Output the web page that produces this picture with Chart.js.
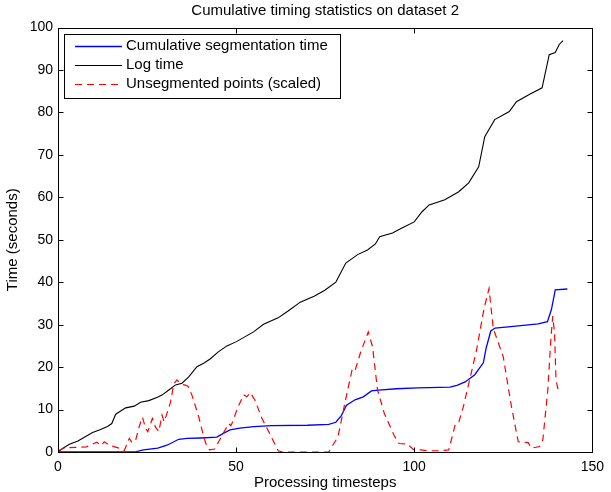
<!DOCTYPE html>
<html>
<head>
<meta charset="utf-8">
<script src="https://cdn.jsdelivr.net/npm/chart.js@4.4.0/dist/chart.umd.min.js"></script>
<style>
  html, body { margin: 0; padding: 0; background: #fff; }
</style>
</head>
<body>
<canvas id="myChart" width="611" height="492"></canvas>
<script>
// values
const xTicks = [0, 50, 100, 150];
const yTicks = [0, 10, 20, 30, 40, 50, 60, 70, 80, 90, 100];

const segSteps = [0, 20, 22, 24, 28, 30.6, 33.9, 36.2, 40, 44.6, 46.4, 48.3, 51, 55, 60, 70, 76, 78, 79.5, 81, 83.4, 85.7, 88, 90, 95, 101, 110, 112, 114.3, 117, 119.4, 120.2, 121.5, 122.7, 126.4, 134.8, 137.4, 138.5, 139.6, 143];
const segValues = [0, 0, 0.1, 0.5, 0.9, 1.6, 3, 3.2, 3.3, 3.5, 4.4, 5.2, 5.6, 6, 6.2, 6.3, 6.5, 7, 8.5, 11, 12.3, 13, 14.4, 14.6, 14.9, 15.1, 15.3, 15.7, 16.5, 18.2, 21, 24.5, 28.5, 29.2, 29.5, 30.2, 30.7, 33.5, 38.2, 38.4];

const logSteps = [0, 1.4, 3.2, 5.6, 9.7, 11.6, 13.9, 15.1, 16.2, 19, 21.4, 23.2, 25.5, 27.9, 29.2, 31.1, 33, 34.8, 36.7, 39, 40.9, 42.7, 45, 47.4, 50.1, 54.9, 57.7, 61.8, 64.6, 68, 71.9, 74.9, 78, 78.6, 80.8, 84.1, 86.9, 89.1, 90.3, 93.9, 96.7, 100, 102.2, 104.2, 108.6, 112.5, 115.3, 118.1, 119.8, 122.6, 126.7, 128.7, 132.3, 135.9, 137.9, 139.6, 140.7, 141.8];
const logValues = [0, 0.9, 1.8, 2.6, 4.6, 5.2, 6, 6.7, 8.9, 10.4, 10.8, 11.7, 12.1, 12.9, 13.4, 14.6, 15.8, 16.2, 17.7, 20.1, 20.9, 21.9, 23.6, 25, 26, 28.3, 30.1, 31.6, 33.2, 35.3, 36.7, 38.1, 40, 41, 44.5, 46.5, 47.6, 49, 50.7, 51.6, 52.8, 54.2, 56.6, 58.2, 59.4, 61.3, 63.4, 67.2, 74.3, 78.3, 80.2, 82.5, 84.2, 85.8, 93.6, 94.1, 96, 96.9];

const unsegSteps = [0, 2, 5, 8, 10.9, 12, 13, 14.4, 17.2, 18.6, 20, 20.8, 21.8, 22.8, 23.7, 24.6, 25.2, 26.5, 27.4, 28.3, 29.2, 29.8, 30.6, 31.6, 32.5, 33.4, 34.5, 35.5, 36.5, 37.6, 39.5, 40.9, 41.8, 42.5, 44, 45.6, 47.9, 48.5, 49, 50.2, 52.1, 53, 54, 55.3, 57.2, 59.5, 61.8, 63, 76, 78.6, 80.9, 82.7, 83.5, 85, 87.1, 88.3, 89.7, 91.6, 94.3, 95.7, 98, 99.9, 101.8, 104, 107.3, 109.7, 111.5, 112.4, 113.8, 116.2, 117.5, 119.6, 121, 122.2, 125, 127.3, 129.2, 132, 132.9, 135.2, 136.1, 137.5, 138.4, 138.9, 139.4, 139.8, 140.3, 141.5];
const unsegValues = [0.3, 1, 1.1, 1.2, 2.3, 1.5, 2.4, 1.6, 0.9, 0.3, 3.2, 2.2, 2.8, 6, 8.2, 5.6, 4.8, 7.9, 5.8, 4.8, 8.7, 7.1, 9.1, 11.8, 16, 17, 16, 15.8, 15.5, 13.4, 8.3, 3.6, 1.3, 0.5, 0.7, 3.2, 6.7, 6.2, 7, 9.9, 13.5, 13, 14, 12.2, 8, 4.2, 0.3, 0, 0, 3.6, 13, 19.9, 19.5, 23.6, 28.3, 24.8, 14.6, 9.1, 4, 2, 1.9, 0.5, 0.5, 0.3, 0.3, 0.5, 6.4, 6.7, 10.7, 19.3, 24, 33.8, 38.5, 29.1, 22.4, 10.7, 2.4, 2.2, 0.9, 1.3, 2.8, 14.6, 27.1, 32, 28, 17, 15, 15.4];

const chartTitle = "Cumulative timing statistics on dataset 2";

const toPoints = (xs, ys) => xs.map((x, i) => ({ x: x, y: ys[i] }));

const family = "'Liberation Sans', Arial, sans-serif";
const font = { family: family, size: 15 };
const tickFont = { family: family, size: 14 };

// title over the plot, box, inward ticks on all four sides, legend top left
const framePlugin = {
  id: "frame",
  afterDraw(chart) {
    const { ctx, chartArea: a, scales } = chart;
    const left = Math.round(a.left) + 0.5;
    const right = Math.round(a.right) + 0.5;
    const top = Math.round(a.top) + 0.5;
    const bottom = Math.round(a.bottom) + 0.5;
    ctx.save();

    ctx.fillStyle = "#000";
    ctx.font = font.size + "px " + family;
    ctx.textAlign = "center";
    ctx.textBaseline = "middle";
    ctx.fillText(chartTitle, (a.left + a.right) / 2, 11);

    ctx.strokeStyle = "#000";
    ctx.lineWidth = 1;
    ctx.strokeRect(left, top, right - left, bottom - top);
    ctx.beginPath();
    yTicks.forEach((v) => {
      const py = Math.round(scales.y.getPixelForValue(v)) + 0.5;
      ctx.moveTo(left, py); ctx.lineTo(left + 5, py);
      ctx.moveTo(right, py); ctx.lineTo(right - 5, py);
    });
    xTicks.forEach((v) => {
      const px = Math.round(scales.x.getPixelForValue(v)) + 0.5;
      ctx.moveTo(px, bottom); ctx.lineTo(px, bottom - 5);
      ctx.moveTo(px, top); ctx.lineTo(px, top + 5);
    });
    ctx.stroke();

    // legend
    ctx.fillStyle = "#fff";
    ctx.fillRect(64.5, 34.5, 276, 64);
    ctx.strokeRect(64.5, 34.5, 276, 64);
    ctx.textAlign = "left";
    const rows = [46, 65, 84];
    chart.data.datasets.forEach((ds, i) => {
      ctx.strokeStyle = ds.borderColor;
      ctx.lineWidth = ds.borderWidth;
      ctx.setLineDash(ds.borderDash || []);
      ctx.beginPath();
      ctx.moveTo(75, rows[i] + 0.5);
      ctx.lineTo(122, rows[i] + 0.5);
      ctx.stroke();
      ctx.setLineDash([]);
      ctx.fillStyle = "#000";
      ctx.fillText(ds.label, 126, rows[i]);
    });
    ctx.restore();
  },
};

new Chart(document.getElementById("myChart"), {
  type: "line",
  data: {
    datasets: [
      {
        label: "Cumulative segmentation time",
        data: toPoints(segSteps, segValues),
        borderColor: "#0000ff",
        borderWidth: 1.3,
        order: 2,
      },
      {
        label: "Log time",
        data: toPoints(logSteps, logValues),
        borderColor: "#000000",
        borderWidth: 1.1,
        order: 3,
      },
      {
        label: "Unsegmented points (scaled)",
        data: toPoints(unsegSteps, unsegValues),
        borderColor: "#ff0000",
        borderWidth: 1.2,
        borderDash: [7, 5],
        order: 1,
      },
    ],
  },
  options: {
    responsive: false,
    animation: false,
    layout: { padding: { top: 27.5, right: 14.5, left: 0, bottom: 0 } },
    elements: { point: { radius: 0 }, line: { tension: 0 } },
    plugins: {
      legend: { display: false },
      tooltip: { enabled: false },
      title: { display: false },
    },
    scales: {
      x: {
        type: "linear",
        min: 0,
        max: 150,
        afterBuildTicks: (s) => { s.ticks = xTicks.map((v) => ({ value: v })); },
        afterFit: (s) => { s.height = 40; },
        grid: { display: false, drawTicks: false },
        border: { display: false },
        ticks: { color: "#000", font: tickFont, padding: 7, maxRotation: 0 },
        title: { display: true, text: "Processing timesteps", color: "#000", font: font, padding: 0 },
      },
      y: {
        type: "linear",
        min: 0,
        max: 100,
        afterBuildTicks: (s) => { s.ticks = yTicks.map((v) => ({ value: v })); },
        afterFit: (s) => { s.width = 58; },
        grid: { display: false, drawTicks: false },
        border: { display: false },
        ticks: { color: "#000", font: tickFont, padding: 5 },
        title: { display: true, text: "Time (seconds)", color: "#000", font: font, padding: { top: 4, bottom: 0 } },
      },
    },
  },
  plugins: [framePlugin],
});
</script>
</body>
</html>
